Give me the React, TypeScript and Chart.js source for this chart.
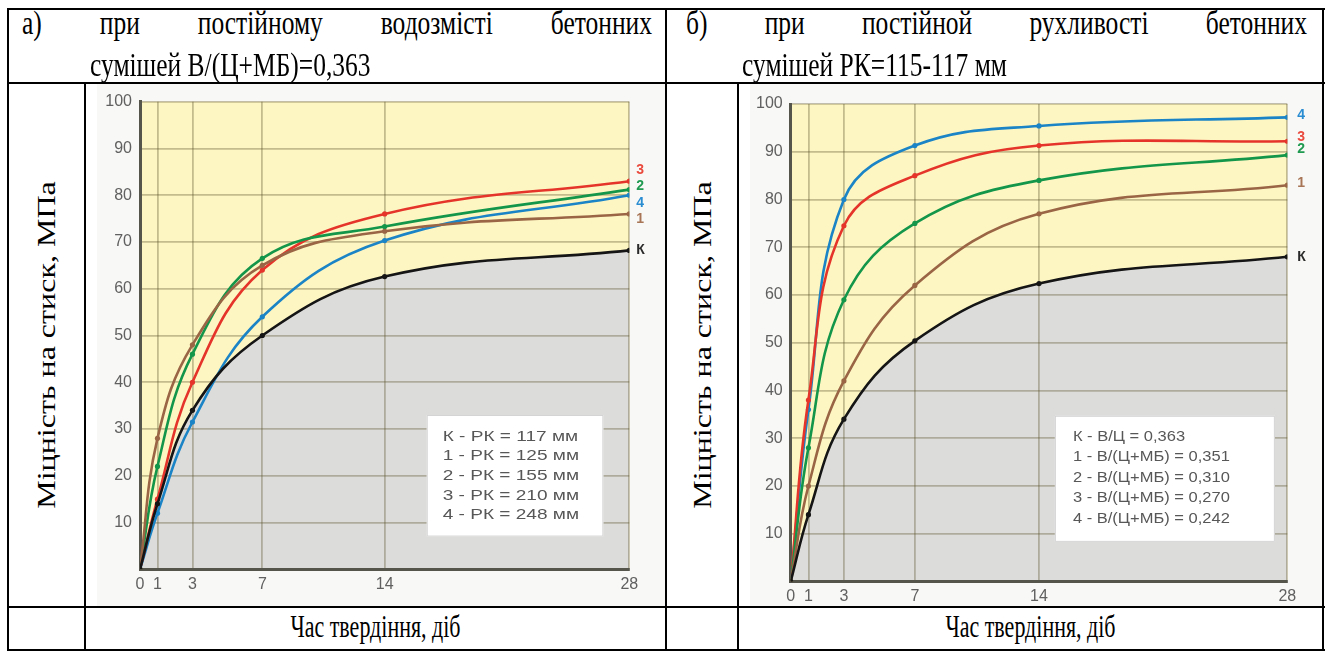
import React, { useEffect, useRef } from "react";
import { Chart, registerables } from "chart.js";

// ---------- data ----------
const DAYS = [0, 1, 3, 7, 14, 28];
const X_TICKS = [0, 1, 3, 7, 14, 28];
const Y_MIN = 0;
const Y_MAX = 100;
const Y_STEP = 10;

const SERIES_KEYS = ["К", "1", "2", "3", "4"];
const SERIES_COLORS = ["#151515", "#9a6545", "#14964a", "#e5352b", "#1b84c6"];
const LABEL_COLORS = ["#2a2a2a", "#a87556", "#1f9a50", "#ea4a3e", "#2a8dd2"];

// panel а) — constant water content
const A_K = [0, 14, 34, 50, 62.6, 68.2];
const A_1 = [0, 28, 48, 65, 72.3, 76];
const A_2 = [0, 22, 46, 66.5, 73.3, 81.2];
const A_3 = [0, 15, 40, 64, 76, 83];
const A_4 = [0, 12, 31.5, 54, 70.3, 80];
const A_END_LABEL_AT = [68.3, 74.9, 82.0, 85.4, 78.3];
const A_LEGEND = [
  "К - РК = 117 мм",
  "1 - РК = 125 мм",
  "2 - РК = 155 мм",
  "3 - РК = 210 мм",
  "4 - РК = 248 мм",
];

// panel б) — constant workability
const B_K = [0, 14, 34, 50.4, 62.4, 68];
const B_1 = [0, 20, 42, 62, 77, 83];
const B_2 = [0, 28, 59, 75, 84, 89.3];
const B_3 = [0, 38, 74.5, 85, 91.3, 92.2];
const B_4 = [0, 36, 80, 91.3, 95.4, 97.2];
const B_END_LABEL_AT = [68, 83.5, 90.5, 93.0, 97.6];
const B_LEGEND = [
  "К - В/Ц = 0,363",
  "1 - В/(Ц+МБ) = 0,351",
  "2 - В/(Ц+МБ) = 0,310",
  "3 - В/(Ц+МБ) = 0,270",
  "4 - В/(Ц+МБ) = 0,242",
];

const A_HEAD_1 = ["а)", "при", "постійному", "водозмісті", "бетонних"];
const A_HEAD_2 = "сумішей В/(Ц+МБ)=0,363";
const B_HEAD_1 = ["б)", "при", "постійной", "рухливості", "бетонних"];
const B_HEAD_2 = "сумішей РК=115-117 мм";
const Y_TITLE = "Міцність на стиск, МПа";
const X_TITLE = "Час твердіння, діб";

// ---------- plugins ----------
const panelBg = {
  id: "panelBg",
  beforeDraw(chart: any, _args: any, opts: any) {
    const { ctx, chartArea: a } = chart;
    if (!a) return;
    ctx.save();
    ctx.fillStyle = opts.pageColor || "#f8f8f6";
    ctx.fillRect(opts.inset || 0, 0, chart.width, chart.height);
    ctx.fillStyle = opts.plotColor || "#fdf7c4";
    ctx.fillRect(a.left, a.top, a.right - a.left, a.bottom - a.top);
    ctx.restore();
  },
};
Chart.register(panelBg as any);
Chart.register(...registerables);

type PanelSpec = {
  series: number[][];
  endLabels: number[];
  legend: string[];
  box: { l: number; r: number; t: number; b: number };
  legendPad: number;
  legendFirst: number;
  legendGap: number;
  legendFont: number;
  legendScale: number;
  labelDx: number;
  padTop: number;
  padRight: number;
  yAxisW: number;
  xAxisH: number;
  xTickPad: number;
};

function makeAnnot(p: PanelSpec) {
  return {
    id: "annot",
    afterDraw(chart: any) {
      const { ctx, chartArea: a, scales } = chart;
      const ys = scales.y;
      ctx.save();
      ctx.font = "bold 14px 'Liberation Sans', Arial, sans-serif";
      ctx.textBaseline = "middle";
      ctx.textAlign = "left";
      SERIES_KEYS.forEach((k, i) => {
        ctx.fillStyle = LABEL_COLORS[i];
        ctx.fillText(k, a.right + p.labelDx, ys.getPixelForValue(p.endLabels[i]));
      });
      const w = a.right - a.left;
      const h = a.bottom - a.top;
      const bx = a.left + p.box.l * w;
      const by = a.top + p.box.t * h;
      const bw = (p.box.r - p.box.l) * w;
      const bh = (p.box.b - p.box.t) * h;
      ctx.fillStyle = "#ffffff";
      ctx.fillRect(bx, by, bw, bh);
      ctx.strokeStyle = "#d4d4d4";
      ctx.lineWidth = 1;
      ctx.strokeRect(bx + 0.5, by + 0.5, bw - 1, bh - 1);
      ctx.fillStyle = "#575757";
      ctx.font = `${p.legendFont}px 'Liberation Sans', Arial, sans-serif`;
      p.legend.forEach((t, i) => {
        ctx.save();
        ctx.translate(bx + p.legendPad, by + p.legendFirst + i * p.legendGap);
        ctx.scale(p.legendScale, 1);
        ctx.fillText(t, 0, 0);
        ctx.restore();
      });
      ctx.restore();
    },
  };
}

function makeConfig(p: PanelSpec): any {
  const datasets = p.series.map((vals, i) => ({
    label: SERIES_KEYS[i],
    data: DAYS.map((d, j) => ({ x: d, y: vals[j] })),
    borderColor: SERIES_COLORS[i],
    backgroundColor: i === 0 ? "#dcdcdb" : SERIES_COLORS[i],
    pointBackgroundColor: SERIES_COLORS[i],
    pointBorderColor: SERIES_COLORS[i],
    pointRadius: 2.6,
    pointBorderWidth: 0,
    borderWidth: 2.6,
    tension: 0.4,
    fill: i === 0 ? "origin" : false,
  }));
  const tickFont = { family: "'Liberation Sans', Arial, sans-serif", size: 16 };
  const gridCfg = { color: "rgba(90,80,40,0.35)", lineWidth: 1.8, drawTicks: false };
  const borderCfg = { color: "#55554c", width: 3 };
  return {
    type: "line",
    data: { datasets },
    options: {
      responsive: false,
      animation: false,
      events: [],
      layout: { padding: { top: p.padTop, right: p.padRight, left: 0, bottom: 0 } },
      plugins: {
        legend: { display: false },
        tooltip: { enabled: false },
        filler: { drawTime: "beforeDraw" },
        panelBg: { pageColor: "#f8f8f6", plotColor: "#fdf6c2", inset: 11 },
      },
      scales: {
        x: {
          type: "linear",
          min: DAYS[0],
          max: DAYS[DAYS.length - 1],
          afterBuildTicks: (s: any) => {
            s.ticks = X_TICKS.map((v) => ({ value: v }));
          },
          afterFit: (s: any) => {
            s.height = p.xAxisH;
          },
          grid: gridCfg,
          border: borderCfg,
          ticks: {
            autoSkip: false,
            maxRotation: 0,
            padding: p.xTickPad,
            color: "#606060",
            font: tickFont,
            callback: (v: any) => String(v),
          },
        },
        y: {
          type: "linear",
          min: Y_MIN,
          max: Y_MAX,
          afterFit: (s: any) => {
            s.width = p.yAxisW;
          },
          grid: gridCfg,
          border: borderCfg,
          ticks: {
            stepSize: Y_STEP,
            padding: 8,
            color: "#606060",
            font: tickFont,
            callback: (v: any) => (v === 0 ? "" : String(v)),
          },
        },
      },
    },
    plugins: [makeAnnot(p)],
  };
}

const PANEL_A: PanelSpec = {
  series: [A_K, A_1, A_2, A_3, A_4],
  endLabels: A_END_LABEL_AT,
  legend: A_LEGEND,
  box: { l: 0.586, r: 0.947, t: 0.67, b: 0.93 },
  legendPad: 16,
  legendFirst: 21.7,
  legendGap: 19.6,
  legendFont: 15,
  legendScale: 1.27,
  labelDx: 7,
  padTop: 17.7,
  padRight: 35.7,
  yAxisW: 54,
  xAxisH: 37.7,
  xTickPad: 6,
};

const PANEL_B: PanelSpec = {
  series: [B_K, B_1, B_2, B_3, B_4],
  endLabels: B_END_LABEL_AT,
  legend: B_LEGEND,
  box: { l: 0.532, r: 0.975, t: 0.653, b: 0.917 },
  legendPad: 18,
  legendFirst: 20.7,
  legendGap: 20.5,
  legendFont: 15,
  legendScale: 1.1,
  labelDx: 10,
  padTop: 20,
  padRight: 35.7,
  yAxisW: 51.7,
  xAxisH: 25.5,
  xTickPad: 5.5,
};

function ChartCanvas({ spec, left, top, width, height }: any) {
  const ref = useRef<HTMLCanvasElement>(null);
  useEffect(() => {
    const chart = new Chart(ref.current as HTMLCanvasElement, makeConfig(spec));
    return () => chart.destroy();
  }, [spec]);
  return (
    <canvas
      ref={ref}
      width={width}
      height={height}
      style={{ position: "absolute", left, top, width, height }}
    />
  );
}

// ---------- document text ----------
const FS = 25.5;
const STRETCH = 1.28;
const SERIF = "'Liberation Serif', 'Times New Roman', serif";

function DocText({ left, width, baseline, justify, center, children, fs = FS, stretch = STRETCH }: any) {
  const lh = Math.round(fs * 1.2);
  const base = (lh - fs * 1.107) / 2 + fs * 0.891;
  return (
    <div
      style={{
        position: "absolute",
        left,
        top: baseline - base,
        width,
        height: lh,
        lineHeight: lh + "px",
        fontSize: fs,
        fontFamily: SERIF,
        whiteSpace: "nowrap",
        display: "flex",
        justifyContent: justify ? "space-between" : center ? "center" : "flex-start",
        transform: `scaleY(${stretch})`,
        transformOrigin: `0 ${base}px`,
        color: "#000",
      }}
    >
      {children}
    </div>
  );
}

function VTitle({ cx, cy }: any) {
  return (
    <div
      style={{
        position: "absolute",
        left: cx,
        top: cy,
        fontSize: 25,
        fontFamily: SERIF,
        lineHeight: 1,
        whiteSpace: "nowrap",
        transform: `translate(-50%, -50%) rotate(-90deg) scaleX(${STRETCH})`,
        color: "#000",
      }}
    >
      {Y_TITLE}
    </div>
  );
}

function HLine({ y, x1, x2 }: any) {
  return <div style={{ position: "absolute", left: x1, top: y, width: x2 - x1, height: 2, background: "#000" }} />;
}
function VLine({ x, y1, y2 }: any) {
  return <div style={{ position: "absolute", left: x, top: y1, width: 2, height: y2 - y1, background: "#000" }} />;
}

export default function App() {
  return (
    <div
      style={{
        position: "absolute",
        left: 0,
        top: 0,
        width: 1329,
        height: 652,
        background: "#fff",
        overflow: "hidden",
      }}
    >
      <ChartCanvas spec={PANEL_A} left={86} top={84} width={579} height={523} />
      <ChartCanvas spec={PANEL_B} left={739} top={84} width={584} height={523} />

      <DocText left={22} width={630} baseline={34} justify>
        {A_HEAD_1.map((w) => (
          <span key={w}>{w}</span>
        ))}
      </DocText>
      <DocText left={90} width={560} baseline={76}>
        {A_HEAD_2}
      </DocText>
      <DocText left={686} width={621} baseline={34} justify>
        {B_HEAD_1.map((w) => (
          <span key={w}>{w}</span>
        ))}
      </DocText>
      <DocText left={742} width={560} baseline={76}>
        {B_HEAD_2}
      </DocText>

      <VTitle cx={46} cy={345} />
      <VTitle cx={702} cy={345} />

      <DocText left={86} width={579} baseline={637} center fs={22} stretch={1.4}>
        {X_TITLE}
      </DocText>
      <DocText left={739} width={583} baseline={637} center fs={22} stretch={1.4}>
        {X_TITLE}
      </DocText>

      <HLine y={8} x1={7} x2={1325} />
      <HLine y={82} x1={7} x2={1325} />
      <HLine y={606} x1={7} x2={1325} />
      <HLine y={649} x1={7} x2={1325} />
      <VLine x={7} y1={8} y2={651} />
      <VLine x={665} y1={8} y2={651} />
      <VLine x={1322} y1={8} y2={651} />
      <VLine x={84} y1={82} y2={651} />
      <VLine x={737} y1={82} y2={651} />
    </div>
  );
}
